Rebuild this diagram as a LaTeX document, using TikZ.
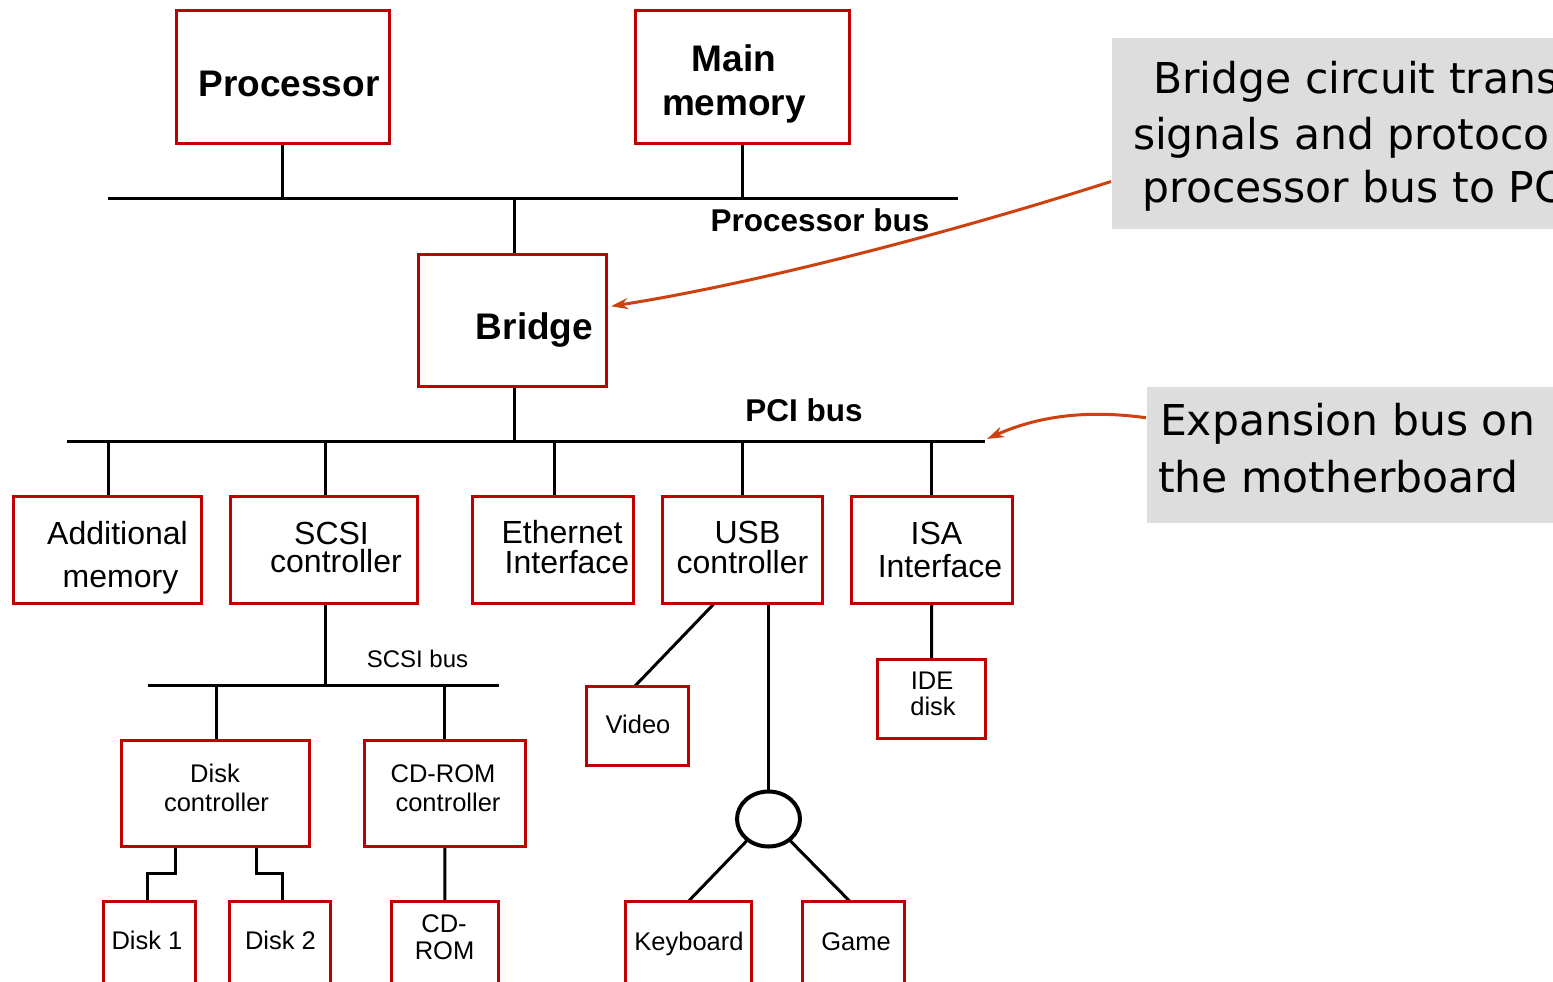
\documentclass[tikz,border=0pt]{standalone}
\usepackage{fontspec}
\setmainfont{Liberation Sans}
\newfontfamily\callfont{DejaVu Sans}
\usetikzlibrary{shapes.geometric,arrows.meta,calc,backgrounds}
\definecolor{boxred}{RGB}{192,0,0}
\definecolor{arrred}{RGB}{205,65,15}
\definecolor{callgray}{RGB}{221,221,221}
\newcommand\bx[5]{\node[boxnode, minimum width={#4-#2-3}, minimum height={#5-#3-3}] (#1) at ({(#2+#4)/2},{(#3+#5)/2}) {};}
\tikzset{
 boxnode/.style={draw=boxred, line width=3pt, fill=white, inner sep=0pt, outer sep=0pt, rectangle},
 conn/.style={line width=3pt, black},
 lbl/.style={inner sep=0pt, outer sep=0pt, anchor=base},
 bigb/.style={lbl, font=\bfseries\fontsize{37}{40}\selectfont},
 busb/.style={lbl, font=\bfseries\fontsize{31.5}{34}\selectfont},
 midlbl/.style={lbl, font=\fontsize{32}{34}\selectfont},
 smlbl/.style={lbl, font=\fontsize{25.5}{28}\selectfont},
 scsilbl/.style={lbl, font=\fontsize{24}{26}\selectfont},
 callt/.style={inner sep=0pt, outer sep=0pt, anchor=base west, font=\callfont\fontsize{42.5}{50}\selectfont},
 callbox/.style={fill=callgray, draw=none, inner sep=0pt, outer sep=0pt, rectangle, anchor=north west},
 callarrow/.style={draw=arrred, line width=3pt, -{Stealth[length=17pt,width=11pt]}}
}
\begin{document}
\begin{tikzpicture}[x=1pt,y=-1pt]
\useasboundingbox (0,0) rectangle (1553,982);
\clip (0,0) rectangle (1553,982);

% callout boxes
\node[callbox, minimum width=460, minimum height=191] (call1) at (1112,38) {};
\node[callt] (c1a) at (1153,93) {Bridge circuit translates};
\node[callt] (c1b) at (1133,149) {signals and protocols from};
\node[callt] (c1c) at (1142.5,202) {processor bus to PCI bus};
\node[callbox, minimum width=420, minimum height=135.5] (call2) at (1147,387) {};
\node[callt] (c2a) at (1160,435) {Expansion bus on};
\node[callt] (c2b) at (1158,492) {the motherboard};

% boxes
\bx{proc}{174.5}{9.5}{391}{145}
\bx{mem}{634}{9.5}{851}{145}
\bx{bridge}{417}{252.5}{608}{388}
\bx{addmem}{11.5}{495}{203}{605}
\bx{scsi}{228.5}{495}{419}{605}
\bx{eth}{471}{495}{635}{605}
\bx{usb}{660.5}{495}{824}{605}
\bx{isa}{850}{495}{1013.5}{605}
\bx{diskc}{120}{739}{311}{848}
\bx{cdc}{363}{739}{527}{848}
\bx{disk1}{101.5}{900}{197}{1010}
\bx{disk2}{228}{900}{331.5}{1010}
\bx{cdrom}{390}{900}{499.5}{1010}
\bx{video}{585}{684.5}{690}{767}
\bx{ide}{876}{657.5}{987}{740}
\bx{kbd}{624}{900}{752.5}{1010}
\bx{game}{801}{900}{906}{1010}
\node[draw, ellipse, line width=4pt, fill=white, inner sep=0pt, outer sep=0pt, minimum width=63, minimum height=55] (hub) at (768.5,819) {};

% bus coordinates
\coordinate (pbL) at (108,198.5);
\coordinate (pbR) at (958,198.5);
\coordinate (pciL) at (67,441);
\coordinate (pciR) at (985,441);
\coordinate (sbL) at (147.5,685);
\coordinate (sbR) at (498.5,685);
\coordinate (tp1) at (282.5,198.5);
\coordinate (tp2) at (742,198.5);
\coordinate (tp3) at (514.5,198.5);
\coordinate (tq0) at (514.5,441);
\coordinate (tq1) at (108.5,441);
\coordinate (tq2) at (325,441);
\coordinate (tq3) at (554,441);
\coordinate (tq4) at (742,441);
\coordinate (tq5) at (931.5,441);
\coordinate (ts0) at (325,685);
\coordinate (ts1) at (216.7,685);
\coordinate (ts2) at (444.5,685);
\coordinate (d1a) at (175,848);
\coordinate (d2a) at (256,848);

\begin{pgfonlayer}{background}
\fill[white] (0,0) rectangle (1553,982);
\draw[conn] (pbL) -- (pbR);
\draw[conn] (pciL) -- (pciR);
\draw[conn] (sbL) -- (sbR);
\draw[conn] (tp1) -- (tp1 |- proc.south);
\draw[conn] (tp2) -- (tp2 |- mem.south);
\draw[conn] (tp3) -- (tp3 |- bridge.north);
\draw[conn] (tq0) -- (tq0 |- bridge.south);
\draw[conn] (tq1) -- (tq1 |- addmem.north);
\draw[conn] (tq2) -- (tq2 |- scsi.north);
\draw[conn] (tq3) -- (tq3 |- eth.north);
\draw[conn] (tq4) -- (tq4 |- usb.north);
\draw[conn] (tq5) -- (tq5 |- isa.north);
\draw[conn] (ts0) -- (ts0 |- scsi.south);
\draw[conn] (ts1) -- (ts1 |- diskc.north);
\draw[conn] (ts2) -- (ts2 |- cdc.north);
\draw[conn] (d1a) -- ++(0,25.5) -| ($(disk1.north)+(-2,0)$);
\draw[conn] (d2a) -- ++(0,25.5) -| ($(disk2.north)+(3,0)$);
\draw[conn] (cdc.south) -- (cdrom.north);
\draw[conn] ($(usb.south)+(-28,0)$) -- ($(video.north)+(-2.5,0)$);
\draw[conn] (hub.north) -- (hub.north |- usb.south);
\draw[conn] (hub.-135) -- (kbd.north);
\draw[conn] (hub.-45) -- ($(game.north)+(-3.5,0)$);
\draw[conn] (isa.south) -- (ide.north);
\end{pgfonlayer}

% labels
\node[bigb] (tProc) at (289,96) {Processor};
\node[bigb] (tMain) at (734,72) {Main};
\node[bigb] (tMem) at (734,115) {memory};
\node[busb] (tPbus) at (820,231) {Processor bus};
\node[bigb] (tBridge) at (534.5,339.5) {Bridge};
\node[busb] (tPci) at (804,421) {PCI bus};
\node[midlbl] (tAdd1) at (117.5,544.5) {Additional};
\node[midlbl] (tAdd2) at (120.5,587) {memory};
\node[midlbl] (tScsi1) at (331.5,544) {SCSI};
\node[midlbl] (tScsi2) at (336,572.7) {controller};
\node[midlbl] (tEth1) at (562,543) {Ethernet};
\node[midlbl] (tEth2) at (567,573) {Interface};
\node[midlbl] (tUsb1) at (747.5,543) {USB};
\node[midlbl] (tUsb2) at (742.5,573) {controller};
\node[midlbl] (tIsa1) at (936.5,544) {ISA};
\node[midlbl] (tIsa2) at (940,577) {Interface};
\node[scsilbl] (tSbus) at (417.5,667) {SCSI bus};
\node[smlbl] (tDc1) at (215,782) {Disk};
\node[smlbl] (tDc2) at (216.5,811) {controller};
\node[smlbl] (tCc1) at (443,782) {CD-ROM};
\node[smlbl] (tCc2) at (448,811) {controller};
\node[smlbl] (tD1) at (147,949) {Disk 1};
\node[smlbl] (tD2) at (280.5,949) {Disk 2};
\node[smlbl] (tCd1) at (444,932) {CD-};
\node[smlbl] (tCd2) at (444.5,959.5) {ROM};
\node[smlbl] (tVid) at (638,733) {Video};
\node[smlbl] (tIde1) at (932,689) {IDE};
\node[smlbl] (tIde2) at (933,715) {disk};
\node[smlbl] (tKbd) at (689,950) {Keyboard};
\node[smlbl] (tGame) at (856,950) {Game};

% callout arrows
\draw[callarrow] ($(call1.west)+(-1,48)$) .. controls (960,230) and (760,283) .. ($(bridge.east)+(4.5,-14)$);
\draw[callarrow] ($(call2.west)+(-1,-37)$) .. controls (1090,410) and (1040,415) .. ($(pciR)+(2,-2)$);
\end{tikzpicture}
\end{document}
